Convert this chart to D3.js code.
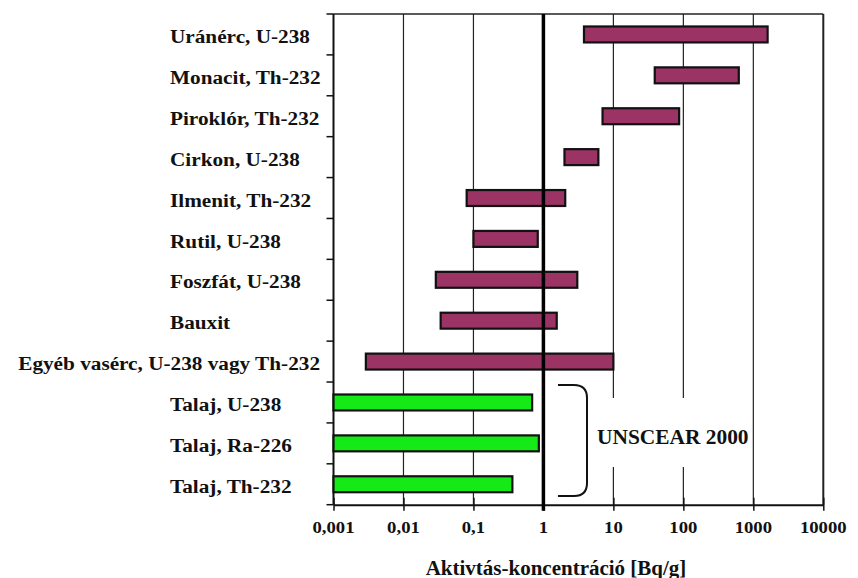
<!DOCTYPE html>
<html>
<head>
<meta charset="utf-8">
<script src="https://cdn.jsdelivr.net/npm/d3@7"></script>
<style>
  html, body { margin: 0; padding: 0; background: #ffffff; }
  svg { display: block; }
  text { font-family: "Liberation Serif", "Times New Roman", serif; font-weight: bold; fill: #111; }
</style>
</head>
<body>
<svg id="chart" width="858" height="578"></svg>
<script>
// ---- Data ----
const categories = [
  "Uránérc, U-238",
  "Monacit, Th-232",
  "Piroklór, Th-232",
  "Cirkon, U-238",
  "Ilmenit, Th-232",
  "Rutil, U-238",
  "Foszfát, U-238",
  "Bauxit",
  "Egyéb vasérc, U-238 vagy Th-232",
  "Talaj, U-238",
  "Talaj, Ra-226",
  "Talaj, Th-232"
];
const lowValues  = [3.8, 39, 7.0, 2.0, 0.08, 0.10, 0.029, 0.034, 0.0029, 0.001, 0.001, 0.001];
const highValues = [1600, 620, 87, 6.1, 2.05, 0.83, 3.05, 1.55, 10, 0.69, 0.86, 0.36];
const groups = ["ore","ore","ore","ore","ore","ore","ore","ore","ore","soil","soil","soil"];
const tickValues = [0.001, 0.01, 0.1, 1, 10, 100, 1000, 10000];
const tickLabels = ["0,001", "0,01", "0,1", "1", "10", "100", "1000", "10000"];
const referenceValue = 1;
const xTitle = "Aktivtás-koncentráció [Bq/g]";
const annotation = "UNSCEAR 2000";

// ---- Layout ----
const svg = d3.select("#chart");
const pLeft = 333.5, pRight = 823.3, pTop = 14, pBottom = 504.7;
const colors = { ore: "#9b3364", soil: "#16ea16" };

const x = d3.scaleLog().domain([0.001, 10000]).range([pLeft, pRight]);
const y = d3.scaleBand().domain(categories).range([pTop, pBottom])
  .paddingInner(0.61).paddingOuter(0.305);

// helper for horizontally stretched text
function stretchedText(parent, str, tx, ty, size, sx, anchor) {
  return parent.append("text")
    .attr("transform", `translate(${tx},${ty}) scale(${sx},1)`)
    .attr("font-size", size)
    .attr("text-anchor", anchor)
    .attr("dominant-baseline", "central")
    .text(str);
}

// vertical grid lines
svg.append("g").selectAll("line").data(tickValues.slice(1, -1)).join("line")
  .attr("x1", d => x(d)).attr("x2", d => x(d))
  .attr("y1", pTop).attr("y2", pBottom)
  .attr("stroke", "#222").attr("stroke-width", 1.2);

// top and right border
svg.append("line").attr("x1", pLeft).attr("x2", pRight).attr("y1", pTop).attr("y2", pTop)
  .attr("stroke", "#222").attr("stroke-width", 1.5);
svg.append("line").attr("x1", pRight).attr("x2", pRight).attr("y1", pTop).attr("y2", pBottom)
  .attr("stroke", "#222").attr("stroke-width", 2);

// bottom axis
const xAxis = d3.axisBottom(x).tickValues(tickValues).tickFormat("").tickSizeInner(6).tickSizeOuter(0);
const gx = svg.append("g").attr("transform", `translate(0,${pBottom})`).call(xAxis);
gx.select(".domain").attr("stroke", "#111").attr("stroke-width", 2);
gx.selectAll(".tick line").attr("y1", -7).attr("y2", 6).attr("stroke", "#111").attr("stroke-width", 1.5);

tickValues.forEach((v, i) => {
  stretchedText(svg, tickLabels[i], x(v), 527, 17, 1.1, "middle");
});

// left axis
const yTicks = categories.map(c => y(c) - (y.step() - y.bandwidth()) / 2).concat([pBottom]);
svg.append("line").attr("x1", pLeft).attr("x2", pLeft).attr("y1", pTop).attr("y2", pBottom)
  .attr("stroke", "#111").attr("stroke-width", 2);
svg.append("g").selectAll("line").data(yTicks).join("line")
  .attr("x1", pLeft - 7).attr("x2", pLeft).attr("y1", d => d).attr("y2", d => d)
  .attr("stroke", "#111").attr("stroke-width", 1.5);

// white box behind annotation
svg.append("rect").attr("x", 592).attr("y", 398).attr("width", 156).attr("height", 69)
  .attr("fill", "#fff");

// bars
svg.append("g").selectAll("rect").data(categories).join("rect")
  .attr("x", (d, i) => x(lowValues[i]))
  .attr("width", (d, i) => x(highValues[i]) - x(lowValues[i]))
  .attr("y", d => y(d))
  .attr("height", y.bandwidth())
  .attr("fill", (d, i) => colors[groups[i]])
  .attr("stroke", "#111").attr("stroke-width", 2.2);

// reference line at 1
svg.append("line").attr("x1", x(referenceValue)).attr("x2", x(referenceValue))
  .attr("y1", pTop).attr("y2", pBottom + 6)
  .attr("stroke", "#000").attr("stroke-width", 3.5);

// category labels
categories.forEach((c, i) => {
  const cy = y(c) + y.bandwidth() / 2 + 2;
  const t = stretchedText(svg, c, 170, cy, 19.5, 1.09, "start");
  const w = t.node().getComputedTextLength() * 1.09;
  if (170 + w > 326) {
    t.attr("text-anchor", "end").attr("transform", `translate(320,${cy}) scale(1.09,1)`);
  }
});

// bracket
const bTop = 385, bBot = 496, bx0 = 558, bx1 = 587, r = 13;
svg.append("path")
  .attr("d", `M${bx0},${bTop} L${bx1 - r},${bTop} Q${bx1},${bTop} ${bx1},${bTop + r} L${bx1},${bBot - r} Q${bx1},${bBot} ${bx1 - r},${bBot} L${bx0},${bBot}`)
  .attr("fill", "none").attr("stroke", "#111").attr("stroke-width", 2);

// annotation
stretchedText(svg, annotation, 597, 437, 20, 1.07, "start");

// x title
stretchedText(svg, xTitle, 556, 568, 20, 1.05, "middle");
</script>
</body>
</html>
